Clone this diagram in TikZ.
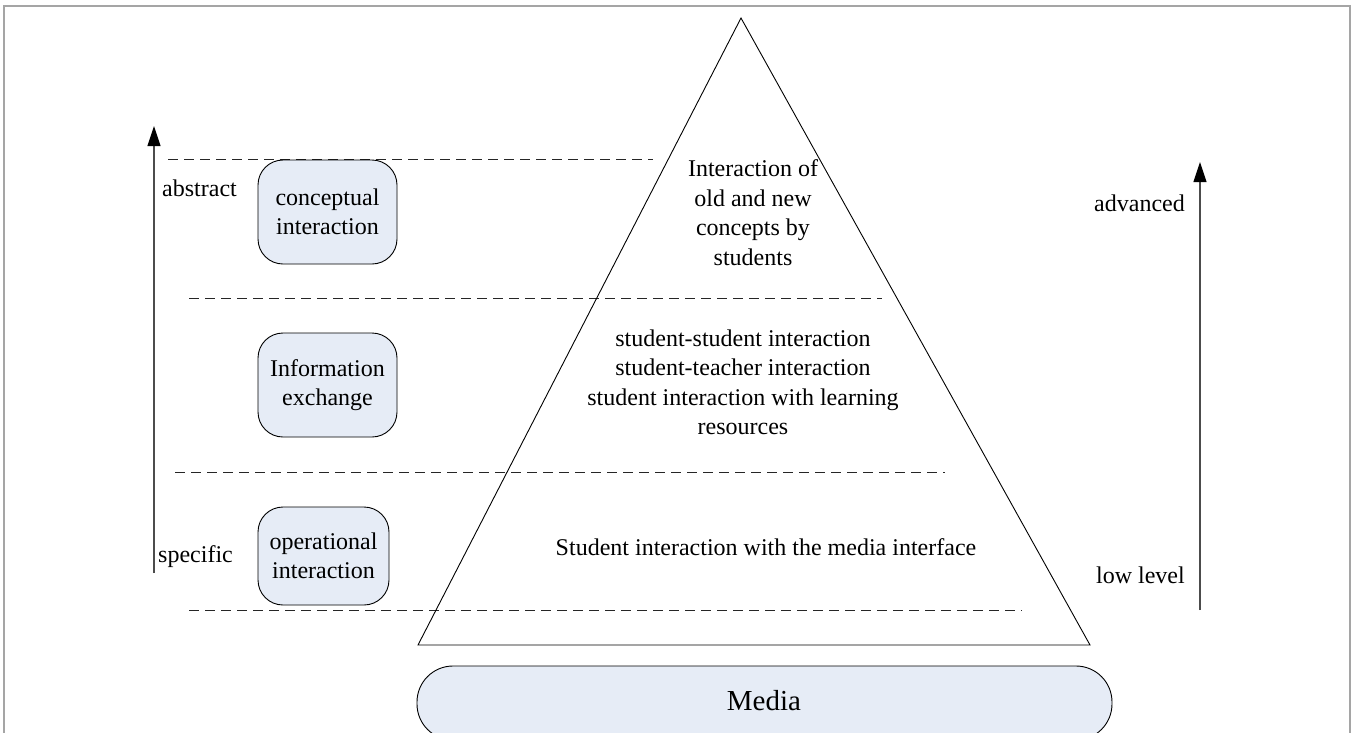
\documentclass[tikz,border=0pt]{standalone}
\usepackage{fontspec}
\setmainfont{Liberation Serif}
\usetikzlibrary{arrows.meta}
\definecolor{boxfill}{RGB}{230,236,246}
\definecolor{framegray}{RGB}{165,165,165}
\tikzset{
  lvlbox/.style={draw=black, fill=boxfill, rounded corners=25pt, line width=0.9pt, align=center, inner sep=0pt, font=\fontsize{24}{29}\selectfont},
  sep/.style={draw=black!85, dash pattern=on 10pt off 6pt, line width=0.9pt},
  axis/.style={draw=black!70, line width=1.1pt, -{Triangle[length=20pt,width=13pt,color=black]}},
  lbl/.style={font=\fontsize{24}{30}\selectfont, inner sep=0pt},
  ptext/.style={font=\fontsize{24}{29.5}\selectfont, align=center, inner sep=0pt},
}
\begin{document}
\begin{tikzpicture}[x=1pt,y=-1pt]
\useasboundingbox (0,0) rectangle (1353,732);
\clip (0,0) rectangle (1353,732);
\fill[white] (0,0) rectangle (1353,732);
% frame
\draw[framegray, line width=1.2pt] (4,760) -- (4,6) -- (1350,6) -- (1350,760);
% dashed separators
\draw[sep] (168,159) -- (653,159);
\draw[sep] (189,298) -- (882,298);
\draw[sep] (175,472) -- (945,472);
\draw[sep] (189,610) -- (1022,610);
% pyramid
\coordinate (apex) at (741,18);
\coordinate (bl) at (418,645);
\coordinate (br) at (1090,645);
\draw[line width=0.9pt, line join=miter] (apex) -- (bl) -- (br) -- cycle;
% media
\draw[lvlbox, rounded corners=36pt] (417,666) rectangle (1112,740);
\node[font=\fontsize{29}{34}\selectfont, inner sep=0pt] (media) at (764,701) {Media};
% level boxes
\node[lvlbox, minimum width=139pt, minimum height=104pt] (concept) at (327.5,212) {conceptual\\interaction};
\node[lvlbox, minimum width=139pt, minimum height=104pt] (info) at (327.5,385) {Information\\exchange};
\node[lvlbox, minimum width=131pt, minimum height=98pt] (oper) at (323.5,556) {operational\\interaction};
% pyramid texts
\node[ptext] (t1) at (753,212.5) {Interaction of\\old and new\\concepts by\\students};
\node[ptext] (t2) at (743,382.5) {student-student interaction\\student-teacher interaction\\student interaction with learning\\resources};
\node[ptext] (t3) at (766,547) {Student interaction with the media interface};
% left axis
\coordinate (la0) at (154,573);
\coordinate (la1) at (154,126);
\draw[axis] (la0) -- (la1);
\node[lbl, anchor=west] (abs) at (162,188) {abstract};
\node[lbl, anchor=west] (spec) at (158,557) {specific};
% right axis
\coordinate (ra0) at (1200,610);
\coordinate (ra1) at (1200,162);
\draw[axis] (ra0) -- (ra1);
\node[lbl, anchor=east] (adv) at (1185,203) {advanced};
\node[lbl, anchor=east] (low) at (1185,575) {low level};
\end{tikzpicture}
\end{document}
